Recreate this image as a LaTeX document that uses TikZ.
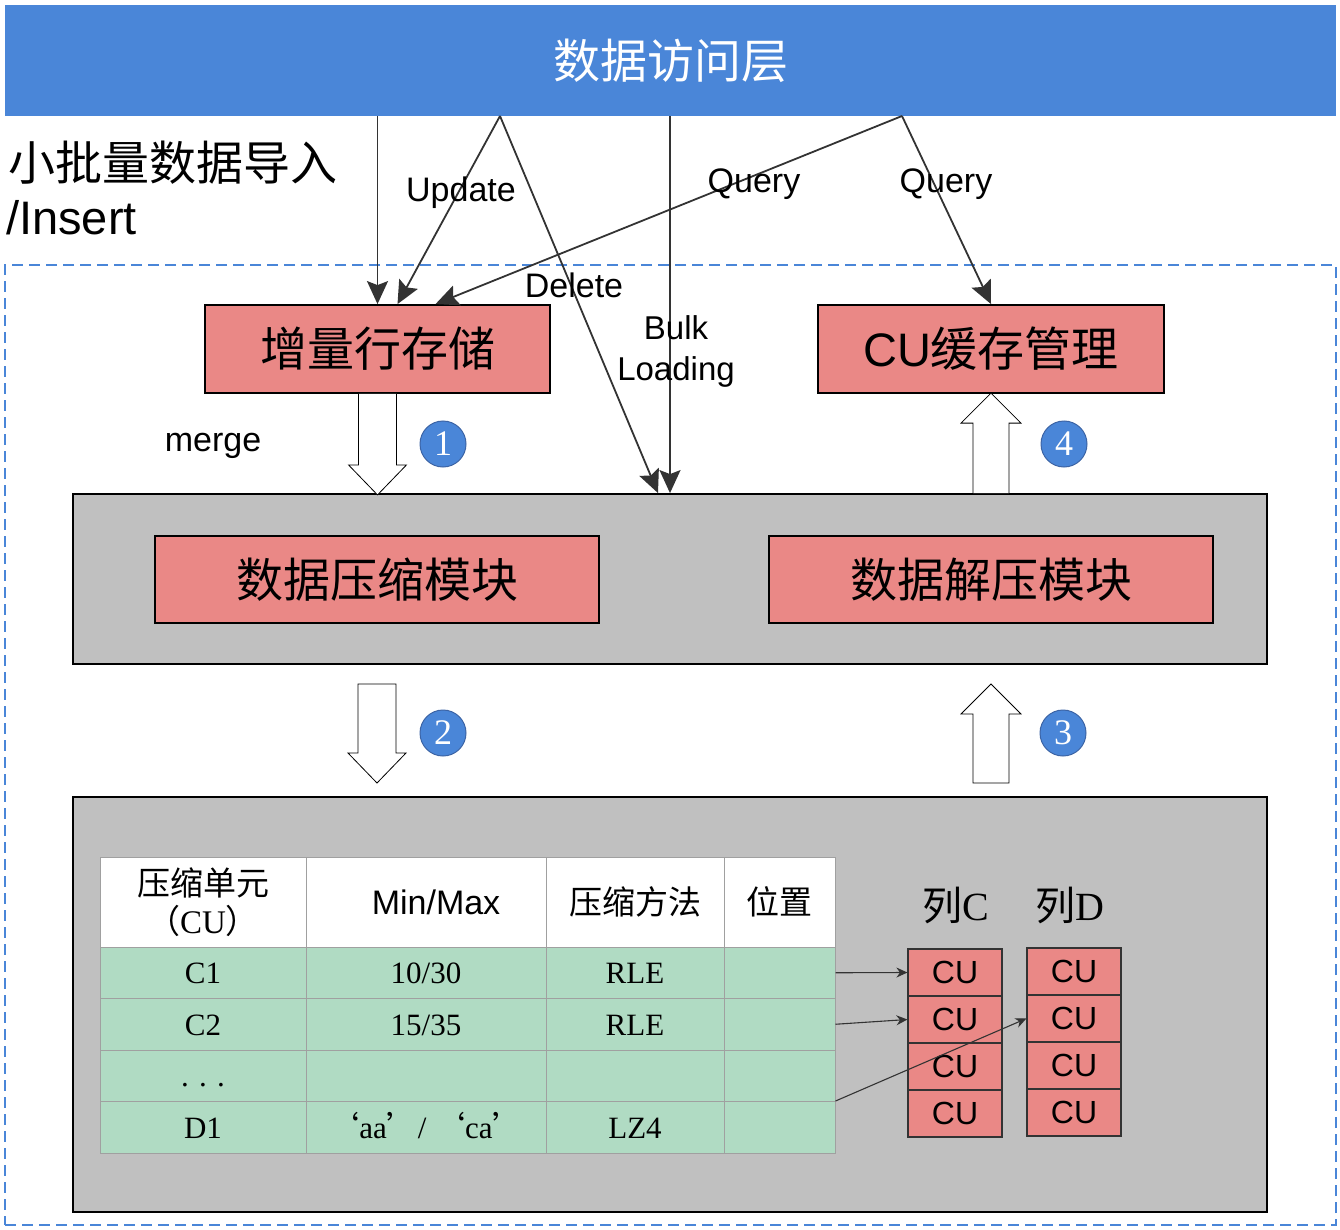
\documentclass[tikz,border=0pt]{standalone}
\usepackage{fontspec}
\setmainfont{Liberation Serif}
\setsansfont{Liberation Sans}
\newfontfamily\cjk{Noto Sans CJK SC}
\usetikzlibrary{arrows.meta,calc}
\definecolor{barblue}{RGB}{74,134,216}
\definecolor{numedge}{RGB}{60,100,165}
\definecolor{salmon}{RGB}{234,136,134}
\definecolor{panelgray}{RGB}{192,192,192}
\definecolor{tgreen}{RGB}{176,219,195}
\definecolor{gridgray}{RGB}{160,160,160}
\definecolor{arrowgray}{RGB}{51,51,51}

\begin{document}
\begin{tikzpicture}[x=1pt,y=-1pt,
    bar/.style={fill=barblue,minimum width=1331,minimum height=111,inner sep=0,text=white,font=\cjk\fontsize{47}{50}\selectfont},
    zone/.style={draw=barblue,line width=1.5pt,dash pattern=on 11pt off 6pt,minimum width=1331,minimum height=960,inner sep=0},
    box/.style={draw=black,line width=1.8pt,fill=salmon,inner sep=0,font=\cjk\fontsize{47}{50}\selectfont},
    panel/.style={draw=black,line width=1.8pt,fill=panelgray,minimum width=1194,inner sep=0},
    label/.style={inner sep=0,font=\sffamily\fontsize{34}{38}\selectfont},
    flow/.style={draw=arrowgray,line width=1.8pt,-{Stealth[length=23pt,width=21pt,inset=4pt]}},
    hollow/.style={draw=black,line width=0.8pt,fill=white},
    num/.style={circle,fill=barblue,draw=numedge,line width=1pt,minimum size=46,inner sep=0,text=white,font=\fontsize{36}{36}\selectfont},
    grid/.style={draw=gridgray,line width=1pt,inner sep=0},
    head/.style={grid,fill=white,minimum height=90,font=\cjk\fontsize{33}{38}\selectfont},
    cell/.style={grid,fill=tgreen,minimum height=51.5,text height=22,text depth=0,font=\fontsize{31}{38}\selectfont},
    cu/.style={draw=arrowgray,line width=1.2pt,fill=salmon,minimum width=94,minimum height=47,inner sep=0,font=\sffamily\fontsize{32}{34}\selectfont},
    link/.style={draw=arrowgray,line width=1.1pt,-{Stealth[length=11pt,width=10pt]}}]
  \useasboundingbox (0,0) rectangle (1340,1230);

  \node[zone] (zone) at (670.5,745) {};
  \node[bar] (dal) at (670.5,60.5) {数据访问层};
  \node[anchor=west,inner sep=0,font=\cjk\fontsize{47}{50}\selectfont] (batch) at (8,163) {小批量数据导入};
  \node[anchor=west,inner sep=0,font=\sffamily\fontsize{47}{50}\selectfont] (insert) at (6,218) {/Insert};

  \node[box,minimum width=345,minimum height=88] (inc) at (377.5,349) {增量行存储};
  \node[box,minimum width=346,minimum height=88] (cache) at (991,349) {{\sffamily CU}缓存管理};
  \node[panel,minimum height=170] (mid) at (670,579) {};
  \node[box,minimum width=444,minimum height=87] (comp) at (377,579.5) {数据压缩模块};
  \node[box,minimum width=444,minimum height=87] (decomp) at (991,579.5) {数据解压模块};
  \node[panel,minimum height=415] (store) at (670,1004.5) {};

  % access paths from the top layer
  \coordinate (s1) at (inc.north |- dal.south);
  \coordinate (s2) at (500,116);
  \coordinate (s3) at (mid.north |- dal.south);
  \coordinate (s4) at (902,116);
  \draw[flow] (s1) -- (inc.north);
  \draw[flow] (s2) -- ($(inc.north)+(20,0)$);
  \draw[flow] (s2) -- ($(mid.north)+(-12,0)$);
  \draw[flow] (s3) -- (mid.north);
  \draw[flow] (s4) -- ($(inc.north)+(58,0)$);
  \draw[flow] (s4) -- (cache.north);

  \node[label] (upd) at (461,193) {Update};
  \node[label] (del) at (574,285) {Delete};
  \node[label,align=center,font=\sffamily\fontsize{33}{41}\selectfont] (bulk) at (676,351) {Bulk\\Loading};
  \node[label] (q1) at (754,184) {Query};
  \node[label] (q2) at (946,184) {Query};
  \node[label] (mrg) at (213,446) {merge};

  % hollow arrows
  \draw[hollow,shift={(inc.south)}] (-19,0) -- (-19,71) -- (-29,71) -- (0,101) -- (29,71) -- (19,71) -- (19,0);
  \draw[hollow,shift={(377,684)}] (-19,0) -- (-19,69) -- (-29,69) -- (0,99) -- (29,69) -- (19,69) -- (19,0) -- cycle;
  \draw[hollow,shift={(991,783)}] (-18,0) -- (-18,-69) -- (-30,-69) -- (0,-99) -- (30,-69) -- (18,-69) -- (18,0) -- cycle;
  \draw[hollow,shift={(cache.south |- mid.north)}] (-18,0) -- (-18,-70) -- (-30,-70) -- (0,-100) -- (30,-70) -- (18,-70) -- (18,0);

  \node[num] (n1) at (443,444) {1};
  \node[num] (n2) at (443,733) {2};
  \node[num] (n3) at (1063,733) {3};
  \node[num] (n4) at (1064,444) {4};

  % table
  \node[head,minimum width=206,align=center] (h1) at (203,902) {压缩单元\\（{\rmfamily CU}）};
  \node[head,minimum width=240,font=\sffamily\fontsize{34}{38}\selectfont] (h2) at (426,902) {\hspace*{20pt}Min/Max};
  \node[head,minimum width=178] (h3) at (635,902) {压缩方法};
  \node[head,minimum width=111] (h4) at (779.5,902) {位置};
  \foreach \y/\a/\b/\c [count=\i] in {972.75/C1/{10/30}/RLE, 1024.25/C2/{15/35}/RLE, 1075.75/{. . .}/{}/{}, 1127.25/D1/{{\cjk ‘}aa{\cjk ’}/ {\cjk ‘}ca{\cjk ’}}/LZ4}
  {
    \node[cell,minimum width=206] (r\i-1) at (203,\y) {\a};
    \node[cell,minimum width=240] (r\i-2) at (426,\y) {\b};
    \node[cell,minimum width=178] (r\i-3) at (635,\y) {\c};
    \node[cell,minimum width=111] (r\i-4) at (779.5,\y) {};
  }

  % column units
  \node[inner sep=0,font=\fontsize{40}{44}\selectfont] (colC) at (956,905) {{\cjk 列}C};
  \node[inner sep=0,font=\fontsize{40}{44}\selectfont] (colD) at (1070,905) {{\cjk 列}D};
  \foreach \k in {1,...,4}{
    \node[cu] (C\k) at (955,{925.5+47*\k}) {CU};
    \node[cu] (D\k) at (1074,{924.5+47*\k}) {CU};
  }
  \draw[link] (r1-4.east) -- (C1.west);
  \draw[link] (r2-4.east) -- (C2.west);
  \draw[link] (r4-4.north east) -- (D2.west);
\end{tikzpicture}
\end{document}
